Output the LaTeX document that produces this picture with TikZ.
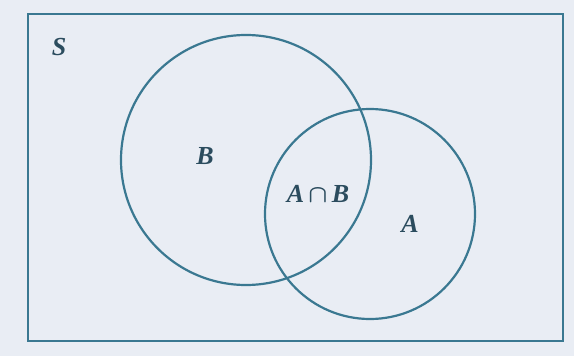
\documentclass[tikz,border=0pt]{standalone}
\usepackage{amsmath}
\usepackage{fontspec}
\setmainfont{Liberation Serif}
\begin{document}
\begin{tikzpicture}[x=1pt,y=-1pt,
  line/.style={draw=linec,line width=2.2pt},
  lbl/.style={text=textc,font=\fontsize{26}{29}\selectfont\bfseries\itshape,inner sep=0pt}]
\definecolor{bgc}{HTML}{E9EDF4}
\definecolor{linec}{HTML}{3A7891}
\definecolor{textc}{HTML}{2B4C5E}
\fill[bgc] (0,0) rectangle (574,356);
\useasboundingbox (0,0) rectangle (574,356);
\draw[line] (28,14) rectangle (563,341);
\node[circle,line,minimum size=250pt,inner sep=0pt] (B) at (246,160) {};
\node[circle,line,minimum size=210pt,inner sep=0pt] (A) at (370,214) {};
\node[lbl] (S) at (59,47) {S};
\node[lbl] (Bl) at (205,156) {B};
\node[lbl] (AB) at (318,194) {A\,$\boldsymbol{\cap}$\,B};
\node[lbl] (Al) at (410,224) {A};
\end{tikzpicture}
\end{document}
